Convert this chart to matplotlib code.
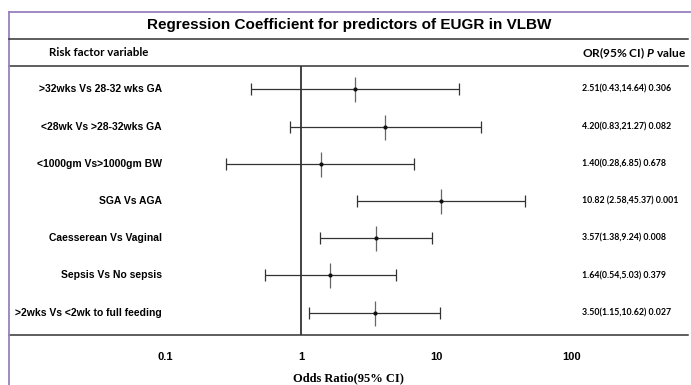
import matplotlib
matplotlib.use("Agg")
import matplotlib.pyplot as plt
from matplotlib.lines import Line2D
from matplotlib.transforms import blended_transform_factory
import numpy as np

# ---- data ----
labels = [">32wks Vs 28-32 wks GA", "<28wk Vs >28-32wks GA", "<1000gm Vs>1000gm BW",
          "SGA Vs AGA", "Caesserean Vs Vaginal", "Sepsis Vs No sepsis",
          ">2wks Vs <2wk to full feeding"]
odds = [2.51, 4.20, 1.40, 10.82, 3.57, 1.64, 3.50]
lower = [0.43, 0.83, 0.28, 2.58, 1.38, 0.54, 1.15]
upper = [14.64, 21.27, 6.85, 45.37, 9.24, 5.03, 10.62]
ci_text = ["2.51(0.43,14.64)", "4.20(0.83,21.27)", "1.40(0.28,6.85)",
           "10.82 (2.58,45.37)", "3.57(1.38,9.24)", "1.64(0.54,5.03)",
           "3.50(1.15,10.62)"]
pvals = ["0.306", "0.082", "0.678", "0.001", "0.008", "0.379", "0.027"]
xticks = [0.1, 1, 10, 100]
xtick_labels = ["0.1", "1", "10", "100"]
title = "Regression Coefficient for predictors of EUGR in VLBW"

plt.rcParams['mathtext.fontset'] = 'custom'
plt.rcParams['mathtext.it'] = 'Lato:bold:italic'
plt.rcParams['mathtext.rm'] = 'Lato:bold'

W, H = 691, 385
fig = plt.figure(figsize=(W / 100, H / 100), dpi=100)

def fx(px):
    return px / W

def fy(py):
    return 1 - py / H

# axes spanning the table body
x0, x1 = 9, 688
y0, y1 = 66, 335
ax = fig.add_axes([fx(x0), fy(y1), fx(x1 - x0), (y1 - y0) / H])
ax.set_xscale('log')
k = 135.5
xl = 10 ** ((x0 - 301) / k)
xr = 10 ** ((x1 - 301) / k)
ax.set_xlim(xl, xr)
n = len(labels)
ax.set_ylim(n - 1 + 0.6, -0.63)
ypos = np.arange(n)

lc = '#333333'
odds_a = np.array(odds)
err = [odds_a - np.array(lower), np.array(upper) - odds_a]
ax.errorbar(odds, ypos, xerr=err, fmt='none', ecolor=lc, elinewidth=0.9,
            capsize=4.3, capthick=0.9)
ax.plot(odds, ypos, linestyle='none', marker='|', markersize=18,
        markeredgewidth=0.9, color='#666666')
ax.plot(odds, ypos, linestyle='none', marker='o', markersize=2.0, color='#111111')
ax.axvline(1, color=lc, lw=1.3)

for s in ['left', 'right']:
    ax.spines[s].set_visible(False)
for s in ['top', 'bottom']:
    ax.spines[s].set_color(lc)
    ax.spines[s].set_linewidth(1.1)
ax.set_yticks([])
ax.set_xticks(xticks)
ax.set_xticklabels(xtick_labels)
ax.minorticks_off()
ax.tick_params(axis='x', length=0, pad=12)
for t in ax.get_xticklabels():
    t.set_fontfamily('Liberation Sans')
    t.set_fontweight('bold')
    t.set_fontsize(8)
ax.set_xlabel("Odds Ratio(95% CI)", fontfamily='Liberation Serif',
              fontweight='bold', fontsize=9, labelpad=8)

tr = blended_transform_factory(ax.transAxes, ax.transData)
lab_x = (162 - x0) / (x1 - x0)
val_x = (582 - x0) / (x1 - x0)
for i in range(n):
    ax.text(lab_x, ypos[i], labels[i], transform=tr, ha='right', va='center',
            fontfamily='Liberation Sans', fontweight='bold', fontsize=7.5)
    ax.text(val_x, ypos[i], ci_text[i] + " " + pvals[i], transform=tr,
            ha='left', va='center', fontfamily='Lato', fontweight='bold',
            fontsize=6.3)

# title and headers
fig.text(fx(349.5), fy(25), title, ha='center', va='center',
         fontfamily='Liberation Sans', fontweight='bold', fontsize=11)
fig.text(fx(49), fy(53), "Risk factor variable", ha='left', va='center',
         fontfamily='Lato', fontweight='bold', fontsize=8.3)
fig.text(fx(686), fy(53), r"OR(95% CI) $P$ value", ha='right', va='center',
         fontfamily='Lato', fontweight='bold', fontsize=8.6)

# lines: purple border, title separator
purple = '#9a80bd'
fig.add_artist(Line2D([fx(9), fx(691)], [fy(12), fy(12)], color=purple, lw=1.3))
fig.add_artist(Line2D([fx(9), fx(9)], [fy(12), fy(385)], color=purple, lw=1.3))
fig.add_artist(Line2D([fx(9), fx(688)], [fy(39), fy(39)], color=lc, lw=1.1))

fig.savefig("out.png", dpi=100)
